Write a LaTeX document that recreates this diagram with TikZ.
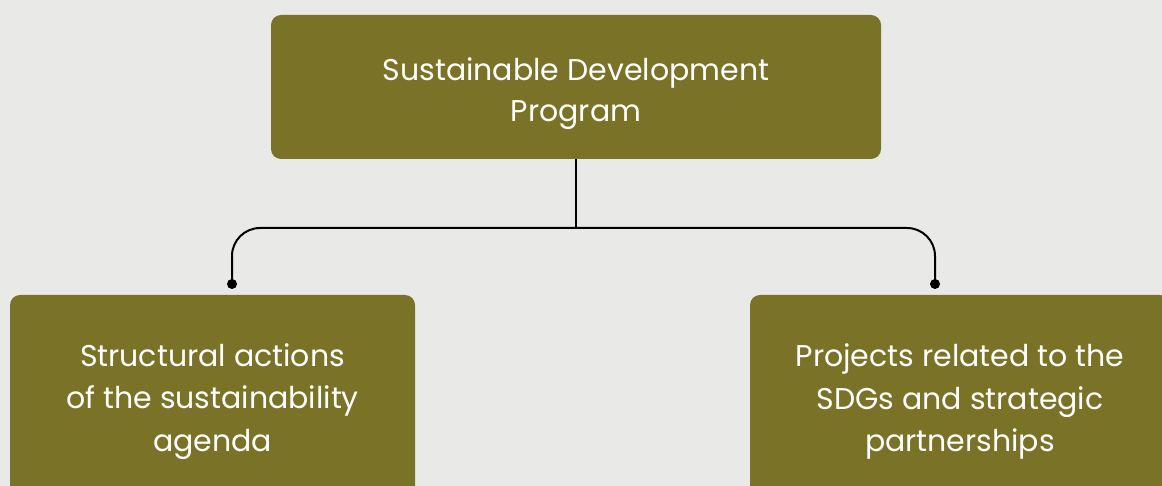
\documentclass[tikz,border=0pt]{standalone}
\usepackage{fontspec}
\setmainfont{Poppins}
\definecolor{bg}{HTML}{E9E9E7}
\definecolor{olive}{HTML}{7A7327}
\tikzset{
  box/.style={draw=none, fill=olive, rounded corners=10pt, inner sep=0pt},
  txt/.style={text=white, align=center, inner sep=0pt},
  toptxt/.style={txt, font=\fontsize{30}{41}\selectfont},
  subtxt/.style={txt, font=\fontsize{30}{42.5}\selectfont},
  link/.style={line width=2pt, black},
  tipdot/.style={fill=black, circle, inner sep=0pt, minimum size=10pt}
}
\begin{document}
\begin{tikzpicture}[x=1pt,y=-1pt]
\useasboundingbox (0,0) rectangle (1162,486);
\clip (0,0) rectangle (1162,486);
\fill[bg] (0,0) rectangle (1162,486);
\node[box, minimum width=610pt, minimum height=144pt] (top) at (576,87) {};
\node[box, minimum width=405pt, minimum height=205pt] (left) at (212.5,397.5) {};
\node[box, minimum width=420pt, minimum height=205pt] (right) at (960,397.5) {};
\node[toptxt] (toplabel) at ([yshift=-7pt]top.center) {Sustainable Development\\Program};
\node[subtxt] (leftlabel) at ([yshift=-4pt]left.center) {Structural actions\\of the sustainability\\agenda};
\node[subtxt] (rightlabel) at ([yshift=-4pt]right.center) {Projects related to the\\SDGs and strategic\\partnerships};
\coordinate (jn) at (576,228);
\node[tipdot] (dl) at (232,284) {};
\node[tipdot] (dr) at (935,284) {};
\draw[link] (top.south) -- (jn);
\draw[link, rounded corners=28pt] (jn) -| (dl.center);
\draw[link, rounded corners=28pt] (jn) -| (dr.center);
\end{tikzpicture}
\end{document}
